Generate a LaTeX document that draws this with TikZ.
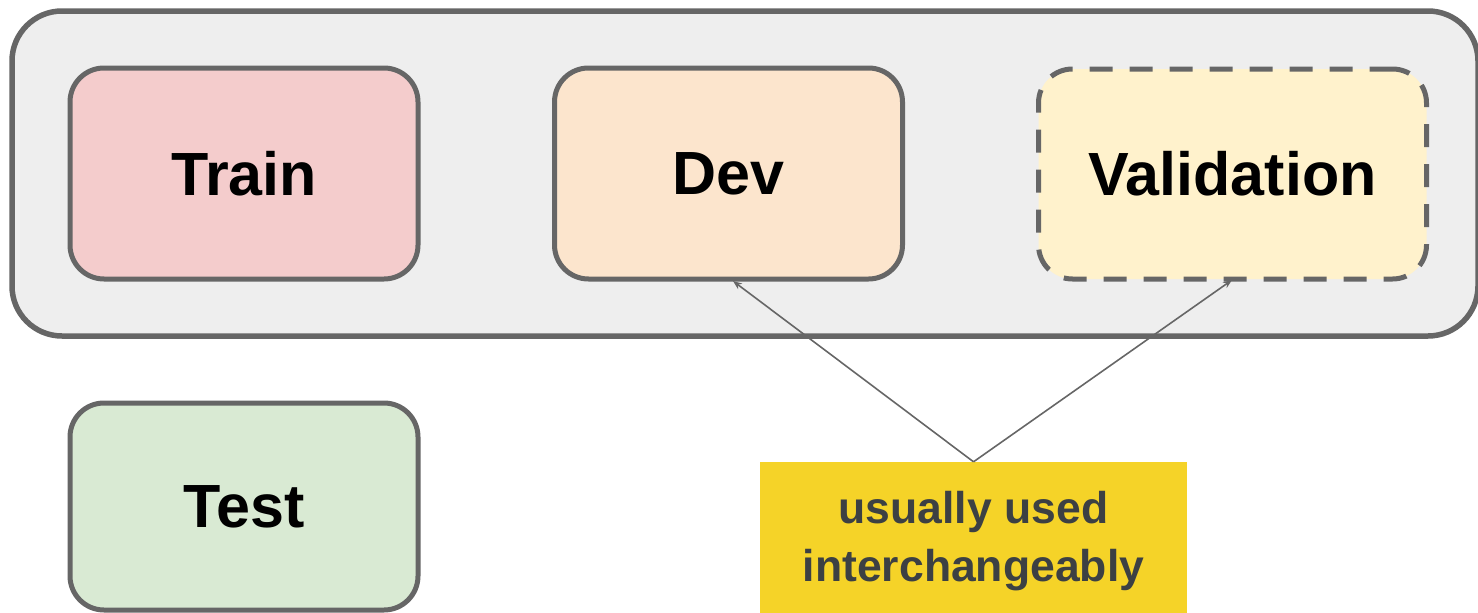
\documentclass[tikz,border=0pt]{standalone}
\usepackage{fontspec}
\setmainfont{Liberation Sans}
\usetikzlibrary{arrows.meta}
\definecolor{bordergray}{HTML}{666666}
\definecolor{outerfill}{HTML}{EEEEEE}
\definecolor{trainfill}{HTML}{F4CCCC}
\definecolor{devfill}{HTML}{FCE5CD}
\definecolor{valfill}{HTML}{FFF2CC}
\definecolor{testfill}{HTML}{D9EAD3}
\definecolor{notefill}{HTML}{F5D328}
\definecolor{notetext}{HTML}{3C4043}
\tikzset{
  setbox/.style={draw=bordergray, line width=5pt, rounded corners=34pt, inner sep=0pt,
    font=\fontsize{61}{72}\selectfont\bfseries, text=black},
  notebox/.style={fill=notefill, inner sep=0pt},
  notelabel/.style={inner sep=0pt, align=center, text=notetext,
    font=\fontsize{44.5}{58}\selectfont\bfseries},
  link/.style={draw=bordergray, line width=1.6pt, -{Stealth[length=9pt,width=7pt]}}
}
\begin{document}
\begin{tikzpicture}[x=1pt,y=-1pt]
\useasboundingbox (0,0) rectangle (1478,613);
\draw[draw=bordergray, fill=outerfill, line width=5.5pt, rounded corners=50pt] (12,11) rectangle (1478,336);
\node[setbox, fill=trainfill, minimum width=348pt, minimum height=211pt] (train) at (244,173.5) {Train};
\node[setbox, fill=devfill, minimum width=348pt, minimum height=211pt] (dev) at (728.5,173.5) {Dev};
\node[setbox, fill=valfill, dash pattern=on 23pt off 17pt, minimum width=388pt, minimum height=210pt] (val) at (1232.5,174) {Validation};
\node[setbox, fill=testfill, minimum width=348pt, minimum height=207pt] (test) at (244,506.5) {Test};
\node[notebox, minimum width=427pt, minimum height=151pt] (note) at (973.5,537.5) {};
\node[notelabel] (notetxt) at ([yshift=-4pt]note.center) {usually used\\interchangeably};
\draw[link] (note.north) -- (733,281);
\draw[link] (note.north) -- (1232,280);
\end{tikzpicture}
\end{document}
